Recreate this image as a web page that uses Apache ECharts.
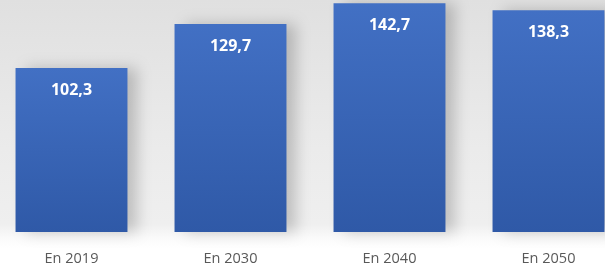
<!DOCTYPE html>
<html lang="fr">
<head>
<meta charset="UTF-8">
<title>Chart</title>
<style>
  html, body { margin: 0; padding: 0; overflow: hidden; width: 605px; height: 270px; }
  /* plot area runs a little past both edges of the window, like the source image */
  #main { width: 636px; height: 270px; margin-left: -8px; }
</style>
</head>
<body>
<div id="main"></div>
<script src="https://cdn.jsdelivr.net/npm/echarts@6/dist/echarts.min.js"></script>
<script>
var categories = ['En 2019', 'En 2030', 'En 2040', 'En 2050'];
var values = [102.3, 129.7, 142.7, 138.3];

var chart = echarts.init(document.getElementById('main'));

var option = {
    // grey wall behind the bars, white floor under the baseline
    backgroundColor: new echarts.graphic.LinearGradient(0, 0, 0, 1, [
        { offset: 0, color: '#e0e0e0' },
        { offset: 0.55, color: '#ebebeb' },
        { offset: 0.83, color: '#efefef' },
        { offset: 0.88, color: '#fafafa' },
        { offset: 0.92, color: '#ffffff' },
        { offset: 1, color: '#ffffff' }
    ]),
    grid: { left: 0, right: 0, top: 0, height: 232 },
    xAxis: {
        type: 'category',
        data: categories,
        axisLine: { show: false },
        axisTick: { show: false },
        axisLabel: {
            color: '#595959',
            fontFamily: 'Open Sans',
            fontSize: 14.5,
            margin: 19
        }
    },
    yAxis: {
        type: 'value',
        min: 0,
        max: 144.7,
        show: false,
        splitLine: { show: false }
    },
    series: [{
        type: 'bar',
        data: values,
        barCategoryGap: '29.6%',
        itemStyle: {
            color: new echarts.graphic.LinearGradient(0, 0, 0, 1, [
                { offset: 0, color: '#4270c4' },
                { offset: 1, color: '#2f59a7' }
            ]),
            shadowColor: 'rgba(0, 0, 0, 0.2)',
            shadowBlur: 14,
            shadowOffsetX: 10,
            shadowOffsetY: 0
        },
        label: {
            show: true,
            position: 'insideTop',
            distance: 14,
            color: '#ffffff',
            fontFamily: 'Open Sans',
            fontWeight: 'bold',
            fontSize: 16,
            formatter: function (p) {
                return p.value.toFixed(1).replace('.', ',');
            }
        }
    }]
};

chart.setOption(option);
</script>
</body>
</html>
